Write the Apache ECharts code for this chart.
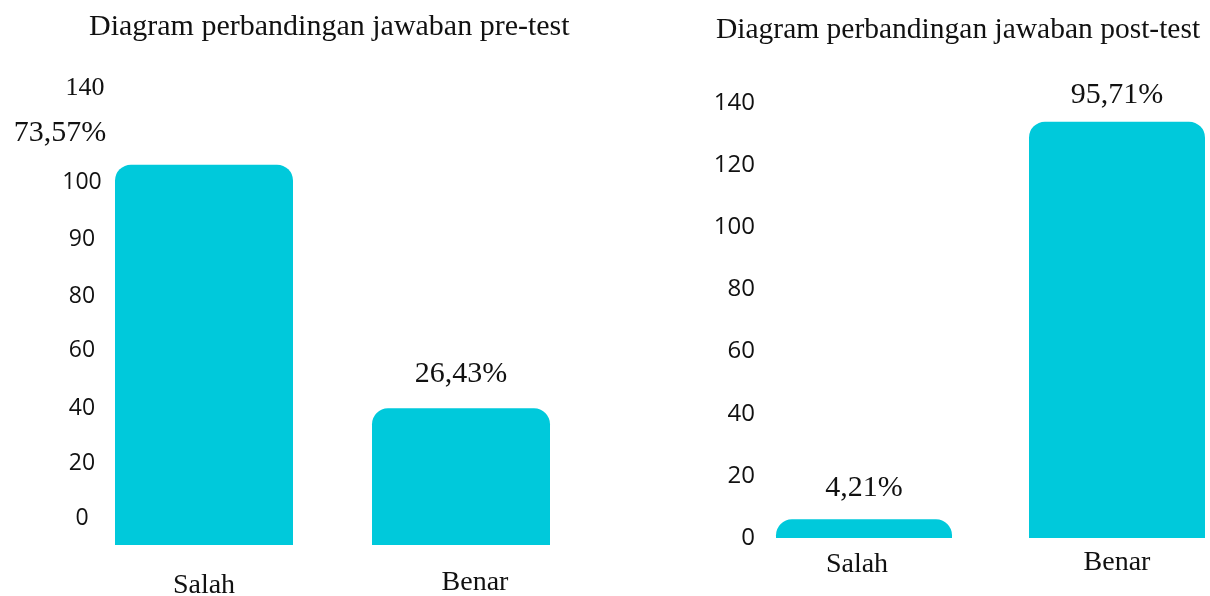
<!DOCTYPE html>
<html>
<head>
<meta charset="utf-8">
<script src="https://cdn.jsdelivr.net/npm/echarts@6/dist/echarts.min.js"></script>
<style>
html, body { margin: 0; padding: 0; background: #fff; }
#main { width: 1210px; height: 596px; }
</style>
</head>
<body>
<div id="main"></div>
<script>
// data
var categories = ['Salah', 'Benar'];
var preValues = [103, 37];
var postValues = [6, 134];
var preLabels = ['73,57%', '26,43%'];
var postLabels = ['4,21%', '95,71%'];
// left chart tick labels sit at odd places in the original
var preTickAt = [7.3, 22.2, 37.1, 52.8, 67.2, 82.7, 98.1, 123.8];
var preTickText = ['0', '20', '40', '60', '80', '90', '100', '140'];

var barColor = '#00C9DB';
var serif = '"Liberation Serif", "Times New Roman", serif';
var sans = '"Open Sans", "Noto Sans", sans-serif';

var chart = echarts.init(document.getElementById('main'));

function barData(values, labels, dists, offsets) {
    return values.map(function (v, i) {
        return {
            value: v,
            label: {
                show: true,
                position: 'top',
                distance: dists[i],
                offset: offsets[i],
                formatter: labels[i],
                fontFamily: serif,
                fontSize: 30,
                color: '#111'
            }
        };
    });
}

chart.setOption({
    animation: false,
    title: [
        {
            text: 'Diagram perbandingan jawaban pre-test',
            left: 84, top: 7,
            textStyle: { fontFamily: serif, fontSize: 30, fontWeight: 'normal', color: '#111' }
        },
        {
            text: 'Diagram perbandingan jawaban post-test',
            left: 711, top: 10,
            textStyle: { fontFamily: serif, fontSize: 29.5, fontWeight: 'normal', color: '#111' }
        }
    ],
    grid: [
        { left: 75.5, width: 514, top: 28, height: 517, outerBoundsMode: 'none' },
        { left: 737.5, width: 506, top: 103, height: 435, outerBoundsMode: 'none' }
    ],
    xAxis: [
        {
            type: 'category', gridIndex: 0,
            data: [
                { value: categories[0], textStyle: { padding: [3, 0, 0, 0] } },
                { value: categories[1], textStyle: { padding: [0, 0, 0, 28] } }
            ],
            axisLine: { show: false }, axisTick: { show: false },
            axisLabel: { margin: 24, fontFamily: serif, fontSize: 28, color: '#111' }
        },
        {
            type: 'category', gridIndex: 1,
            data: [
                { value: categories[0], textStyle: { padding: [2, 14, 0, 0] } },
                { value: categories[1] }
            ],
            axisLine: { show: false }, axisTick: { show: false },
            axisLabel: { margin: 11, fontFamily: serif, fontSize: 28, color: '#111' }
        }
    ],
    yAxis: [
        {
            type: 'value', gridIndex: 0, min: 0, max: 140,
            axisLine: { show: false }, axisTick: { show: false }, splitLine: { show: false },
            axisLabel: {
                customValues: preTickAt,
                align: 'center',
                margin: -6.5,
                fontFamily: sans, fontSize: 23, color: '#111',
                formatter: function (v) {
                    var i = preTickAt.indexOf(v);
                    var t = preTickText[i];
                    return i === preTickText.length - 1 ? '{s|' + t + '}' : t;
                },
                rich: { s: { fontFamily: serif, fontSize: 26, color: '#111', padding: [0, 0, 0, 6] } }
            }
        },
        {
            type: 'value', gridIndex: 1, min: 0, max: 140, interval: 20,
            axisLine: { show: false }, axisTick: { show: false }, splitLine: { show: false },
            axisLabel: { align: 'right', margin: -17.5, fontFamily: sans, fontSize: 24, color: '#111' }
        }
    ],
    series: [
        {
            type: 'bar', xAxisIndex: 0, yAxisIndex: 0,
            barWidth: 178,
            itemStyle: { color: barColor, borderRadius: [16, 16, 0, 0] },
            data: barData(preValues, preLabels, [17, 19], [[-144, 0], [0, 0]])
        },
        {
            type: 'bar', xAxisIndex: 1, yAxisIndex: 1,
            barWidth: 176,
            itemStyle: { color: barColor, borderRadius: [16, 16, 0, 0] },
            data: barData(postValues, postLabels, [16, 12], [[0, 0], [0, 0]])
        }
    ]
});
</script>
</body>
</html>
